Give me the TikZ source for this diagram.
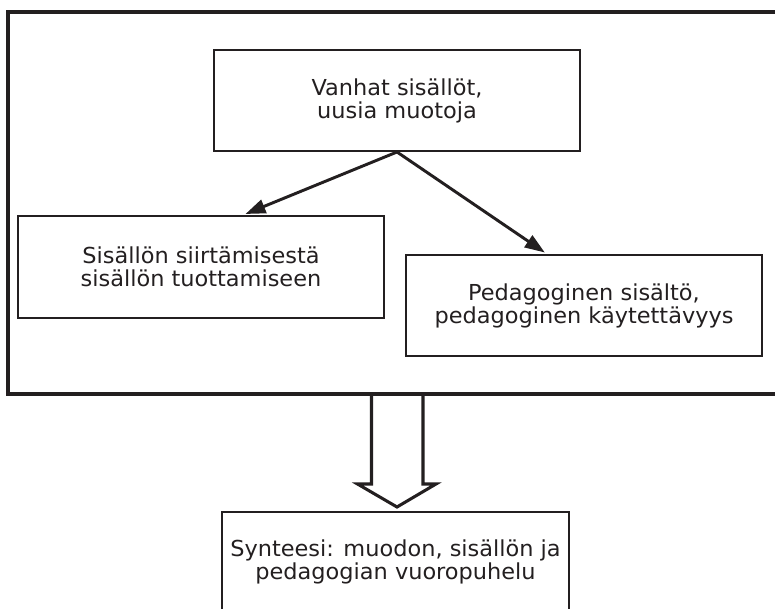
\documentclass[tikz,border=0pt]{standalone}
\usepackage{fontspec}
\setmainfont{DejaVu Sans}[FakeStretch=1.02]
\usetikzlibrary{calc,arrows.meta}
\definecolor{ink}{HTML}{231F20}
\tikzset{
	box/.style={draw=ink, line width=1.5pt, rectangle, inner sep=0pt, text=ink, align=center,
		font=\fontsize{16.5}{17.25}\selectfont},
	link/.style={draw=ink, line width=2.2pt, -{Triangle[length=15pt,width=10.5pt]}, shorten >=2pt}
}
\begin{document}
\begin{tikzpicture}[x=0.75pt,y=-0.75pt]
	\useasboundingbox (0,0) rectangle (775,609);
	\node[box, line width=2.3pt, minimum width=594pt, minimum height=286.5pt] (frame) at (404,203) {};
	\node[box, minimum width=274.5pt, minimum height=75.75pt] (old) at (397,100.5) {Vanhat sisällöt,\\uusia muotoja};
	\node[box, minimum width=274.5pt, minimum height=76.5pt] (shift) at (201,267) {Sisällön siirtämisestä\\sisällön tuottamiseen};
	\node[box, minimum width=267pt, minimum height=75.75pt] (peda) at (584,305.5) {Pedagoginen sisältö,\\pedagoginen käytettävyys};
	\node[box, minimum width=260.25pt, minimum height=75pt] (synth) at (395.5,562) {Synteesi: muodon, sisällön ja\\pedagogian vuoropuhelu};
	\draw[link] (old.south) -- ([xshift=31.5pt]shift.north);
	\draw[link] (old.south) -- ([xshift=-27.75pt]peda.north);
	% big hollow arrow
	\coordinate (tip) at ($(synth.north)+(1.5,-4)$);
	\draw[ink, line width=2.3pt, line join=miter]
		($(tip)+(-25.5,-114)$) -- ++(0,91) -- ++(-14,0) -- (tip)
		-- ++(39,-23) -- ++(-13,0) -- ++(0,-91);
\end{tikzpicture}
\end{document}
